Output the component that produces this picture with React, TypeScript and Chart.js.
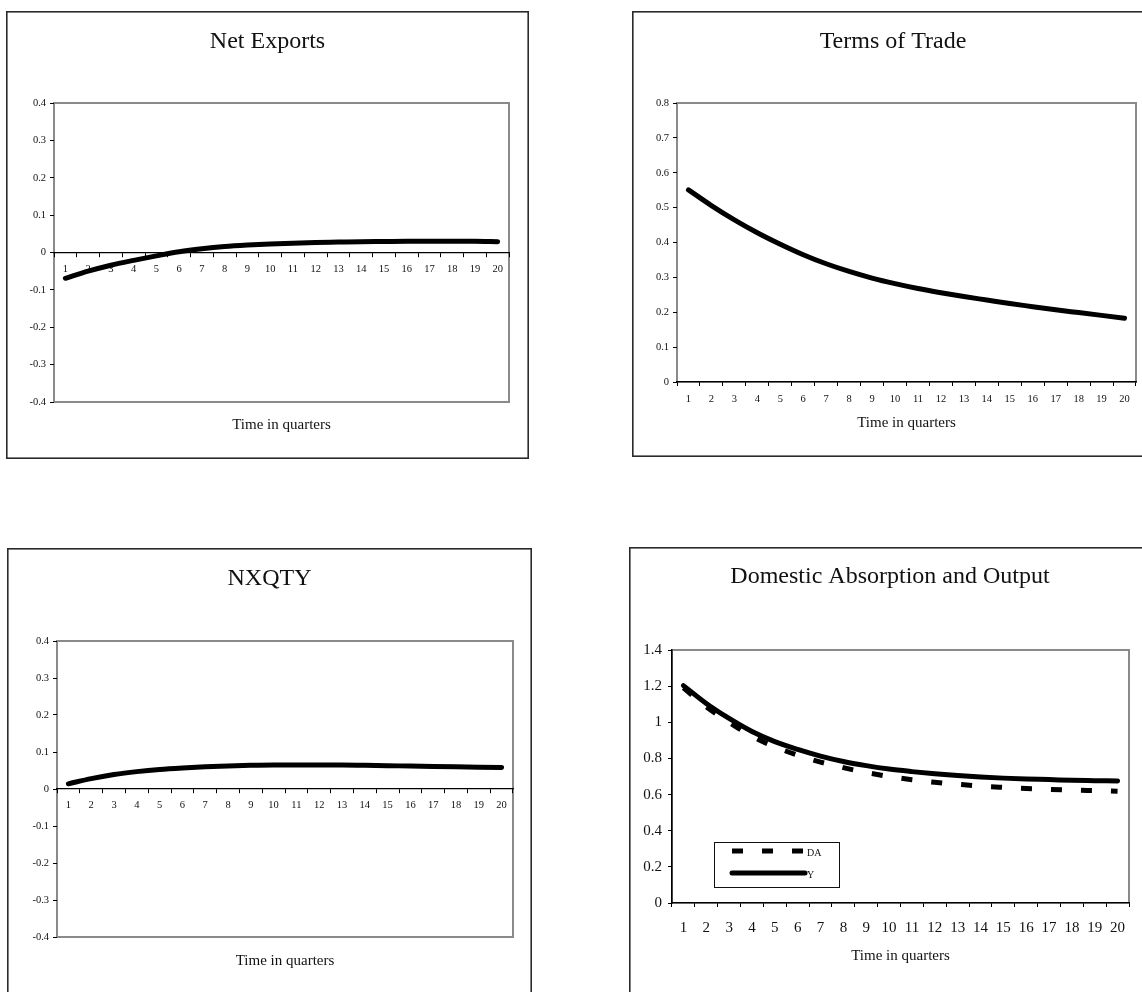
import React, { useEffect, useRef } from "react";
import { Chart, registerables } from "chart.js";

Chart.register(...registerables);

// ---------------- data ----------------
const QUARTERS = ["1", "2", "3", "4", "5", "6", "7", "8", "9", "10", "11", "12", "13", "14", "15", "16", "17", "18", "19", "20"];

const NET_EXPORTS = [-0.069, -0.05, -0.034, -0.021, -0.009, 0.002, 0.01, 0.016, 0.02, 0.023, 0.025, 0.027, 0.028, 0.029, 0.0295, 0.03, 0.03, 0.03, 0.03, 0.029];
const TERMS_OF_TRADE = [0.551, 0.506, 0.465, 0.428, 0.395, 0.365, 0.339, 0.317, 0.298, 0.282, 0.268, 0.256, 0.245, 0.235, 0.225, 0.216, 0.207, 0.199, 0.191, 0.183];
const NXQTY_VALUES = [0.014, 0.028, 0.039, 0.047, 0.053, 0.057, 0.06, 0.062, 0.064, 0.065, 0.065, 0.065, 0.065, 0.064, 0.063, 0.062, 0.061, 0.06, 0.059, 0.058];
const DOMESTIC_ABSORPTION = [1.19, 1.085, 1.0, 0.922, 0.864, 0.818, 0.78, 0.749, 0.722, 0.7, 0.682, 0.668, 0.657, 0.647, 0.64, 0.634, 0.629, 0.625, 0.622, 0.619];
const OUTPUT_Y = [1.203, 1.104, 1.021, 0.949, 0.893, 0.85, 0.813, 0.783, 0.76, 0.741, 0.727, 0.715, 0.705, 0.697, 0.691, 0.686, 0.683, 0.679, 0.677, 0.675];

const NX_Y_RANGE = [-0.4, 0.4, 0.1];
const TOT_Y_RANGE = [0, 0.8, 0.1];
const NXQTY_Y_RANGE = [-0.4, 0.4, 0.1];
const DAY_Y_RANGE = [0, 1.4, 0.2];

const TITLES = ["Net Exports", "Terms of Trade", "NXQTY", "Domestic Absorption and Output"];
const X_TITLE = "Time in quarters";
const SERIES_LABELS = ["DA", "Y"];

// ---------------- styling ----------------
const SERIF = "'Liberation Serif', 'Times New Roman', serif";
const INK = "#111";

type PanelSpec = {
  left: number;
  top: number;
  width: number;
  height: number;
  area: { left: number; top: number; right: number; bottom: number };
  title: string;
  titleY: number;
  xTitleY: number;
  yRange: number[];
  xAtZero: boolean;
  tickSize: number;
  yTickPad: number;
  xTickPad: number;
  tickLen: number;
  blackAxes: boolean;
  xTitleSize: number;
  datasets: any[];
  legend?: { dx: number; dy: number; w: number; h: number };
};

const fmt = (v: number) => String(Number(v.toFixed(2)));

function makeConfig(spec: PanelSpec): any {
  const decor = {
    id: "panelDecor",
    beforeDraw(chart: any) {
      const ctx = chart.ctx;
      const { chartArea: a } = chart;
      ctx.save();
      ctx.fillStyle = "#fff";
      ctx.fillRect(0, 0, chart.width, chart.height);
      ctx.strokeStyle = "#2a2a2a";
      ctx.lineWidth = 1.6;
      ctx.strokeRect(0.8, 0.8, chart.width - 1.6, chart.height - 1.6);
      ctx.strokeStyle = "#8a8a8a";
      ctx.lineWidth = 2;
      ctx.strokeRect(a.left, a.top, a.right - a.left, a.bottom - a.top);
      ctx.restore();
    },
    afterDraw(chart: any) {
      const ctx = chart.ctx;
      const a = chart.chartArea;
      ctx.save();
      ctx.fillStyle = INK;
      ctx.textAlign = "center";
      ctx.textBaseline = "middle";
      ctx.font = `24px ${SERIF}`;
      ctx.fillText(spec.title, chart.width / 2, spec.titleY);
      ctx.font = `${spec.xTitleSize}px ${SERIF}`;
      ctx.fillText(X_TITLE, (a.left + a.right) / 2, spec.xTitleY);
      if (spec.legend) {
        const L = spec.legend;
        const bx = a.left + L.dx;
        const by = a.top + L.dy;
        ctx.strokeStyle = "#111";
        ctx.lineWidth = 1;
        ctx.strokeRect(bx + 0.5, by + 0.5, L.w, L.h);
        chart.data.datasets.forEach((ds: any, i: number) => {
          const ry = by + 9 + i * 22;
          ctx.save();
          ctx.strokeStyle = ds.borderColor;
          ctx.lineWidth = ds.borderWidth;
          ctx.lineCap = ds.borderDash && ds.borderDash.length ? "butt" : "round";
          ctx.setLineDash(ds.borderDash || []);
          ctx.beginPath();
          ctx.moveTo(bx + 18, ry);
          ctx.lineTo(bx + 91, ry);
          ctx.stroke();
          ctx.restore();
          ctx.fillStyle = INK;
          ctx.textAlign = "left";
          ctx.font = `10px ${SERIF}`;
          ctx.fillText(ds.label, bx + 93, ry + 2);
        });
      }
      ctx.restore();
    },
  };

  const [ymin, ymax, ystep] = spec.yRange;
  const tickFont = { family: SERIF, size: spec.tickSize };
  const padLeft = 0;
  const xHeight = spec.height - spec.area.bottom;

  return {
    type: "line",
    data: { labels: QUARTERS, datasets: spec.datasets },
    options: {
      responsive: false,
      animation: false,
      events: [],
      layout: {
        padding: {
          left: padLeft,
          top: spec.area.top,
          right: spec.width - spec.area.right,
          bottom: spec.xAtZero ? spec.height - spec.area.bottom : 0,
        },
      },
      plugins: { legend: { display: false }, tooltip: { enabled: false }, title: { display: false } },
      elements: { point: { radius: 0 } },
      scales: {
        x: {
          type: "category",
          position: spec.xAtZero ? { y: 0 } : "bottom",
          offset: true,
          grid: { offset: true, drawOnChartArea: false, drawTicks: true, tickLength: spec.tickLen, color: "#000", lineWidth: 1 },
          border: { display: true, color: "#000", width: 1.2 },
          ticks: { font: tickFont, color: INK, padding: spec.xTickPad, maxRotation: 0, autoSkip: false },
          afterFit: (s: any) => {
            if (!spec.xAtZero) s.height = xHeight;
          },
        },
        y: {
          type: "linear",
          min: ymin,
          max: ymax,
          grid: { drawOnChartArea: false, drawTicks: true, tickLength: spec.tickLen, color: "#000", lineWidth: 1 },
          border: { display: spec.blackAxes, color: "#000", width: 1.5 },
          ticks: { stepSize: ystep, font: tickFont, color: INK, padding: spec.yTickPad, callback: (v: number) => fmt(v) },
          afterFit: (s: any) => {
            s.width = spec.area.left - padLeft;
          },
        },
      },
    },
    plugins: [decor],
  };
}

const solid = (label: string, data: number[]) => ({
  label,
  data,
  borderColor: "#000",
  borderWidth: 5,
  borderCapStyle: "round",
  cubicInterpolationMode: "monotone",
  pointRadius: 0,
  fill: false,
});

const PANELS: PanelSpec[] = [
  {
    left: 6, top: 11, width: 523, height: 448,
    area: { left: 48, top: 92, right: 503, bottom: 391 },
    title: TITLES[0], titleY: 31, xTitleY: 414,
    yRange: NX_Y_RANGE, xAtZero: true, tickSize: 10.5, yTickPad: 4, xTickPad: 6, tickLen: 4,
    blackAxes: false, xTitleSize: 15,
    datasets: [solid("Net Exports", NET_EXPORTS)],
  },
  {
    left: 632, top: 11, width: 522, height: 446,
    area: { left: 45, top: 92, right: 504, bottom: 371 },
    title: TITLES[1], titleY: 31, xTitleY: 412,
    yRange: TOT_Y_RANGE, xAtZero: false, tickSize: 10.5, yTickPad: 4, xTickPad: 7, tickLen: 4,
    blackAxes: false, xTitleSize: 15,
    datasets: [solid("Terms of Trade", TERMS_OF_TRADE)],
  },
  {
    left: 7, top: 548, width: 525, height: 460,
    area: { left: 50, top: 93, right: 506, bottom: 389 },
    title: TITLES[2], titleY: 31, xTitleY: 413,
    yRange: NXQTY_Y_RANGE, xAtZero: true, tickSize: 10.5, yTickPad: 4, xTickPad: 6, tickLen: 4,
    blackAxes: false, xTitleSize: 15,
    datasets: [solid("NXQTY", NXQTY_VALUES)],
  },
  {
    left: 629, top: 547, width: 522, height: 460,
    area: { left: 43, top: 103, right: 500, bottom: 356 },
    title: TITLES[3], titleY: 30, xTitleY: 409,
    yRange: DAY_Y_RANGE, xAtZero: false, tickSize: 15, yTickPad: 6, xTickPad: 12, tickLen: 4,
    blackAxes: true, xTitleSize: 15,
    datasets: [
      { ...solid(SERIES_LABELS[0], DOMESTIC_ABSORPTION), borderDash: [11, 19], borderCapStyle: "butt" },
      solid(SERIES_LABELS[1], OUTPUT_Y),
    ],
    legend: { dx: 42, dy: 192, w: 125, h: 45 },
  },
];

function Panel({ spec }: { spec: PanelSpec }) {
  const ref = useRef<HTMLCanvasElement | null>(null);
  useEffect(() => {
    if (!ref.current) return;
    const chart = new Chart(ref.current, makeConfig(spec));
    return () => chart.destroy();
  }, [spec]);
  return (
    <canvas
      ref={ref}
      width={spec.width}
      height={spec.height}
      style={{ position: "absolute", left: spec.left, top: spec.top, width: spec.width, height: spec.height }}
    />
  );
}

export default function App() {
  return (
    <div
      style={{
        position: "absolute",
        left: 0,
        top: 0,
        width: 1142,
        height: 992,
        overflow: "hidden",
        background: "#fff",
      }}
    >
      {PANELS.map((p, i) => (
        <Panel key={i} spec={p} />
      ))}
    </div>
  );
}
